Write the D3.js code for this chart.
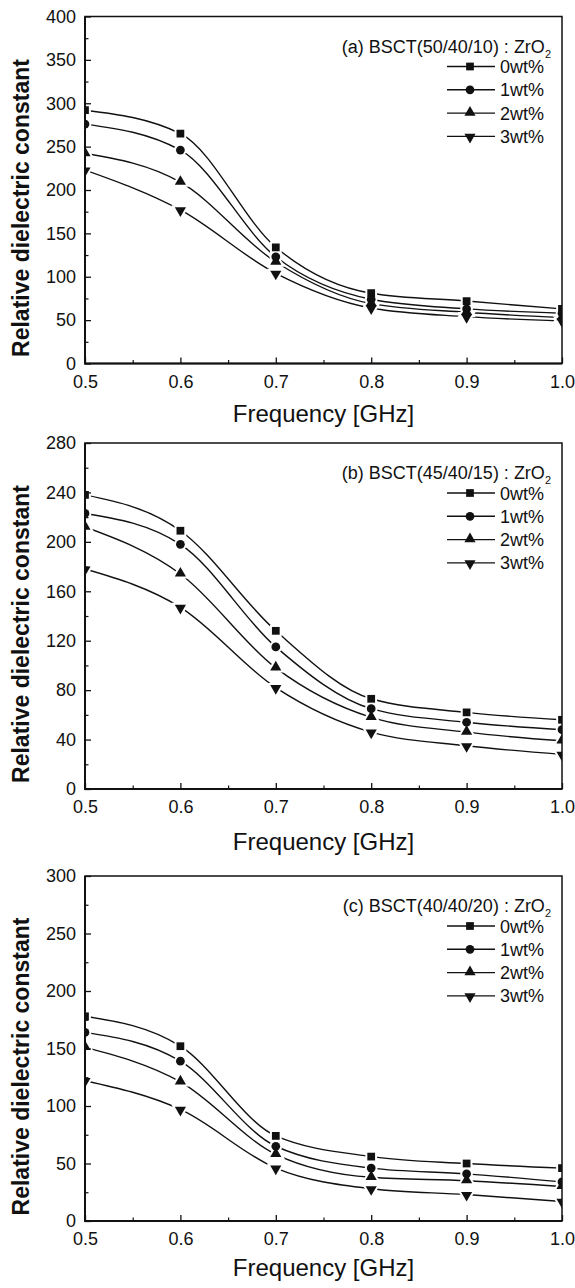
<!DOCTYPE html>
<html>
<head>
<meta charset="utf-8">
<script src="https://cdn.jsdelivr.net/npm/d3@7"></script>
<style>
  html, body { margin: 0; padding: 0; background: #fff; }
  svg { display: block; }
  text { font-family: "Liberation Sans", Arial, sans-serif; fill: #111; }
</style>
</head>
<body>
<svg id="chart" width="575" height="1288"></svg>
<script>
// ---------- data ----------
const frequency = [0.5, 0.6, 0.7, 0.8, 0.9, 1.0];
const seriesNames = ["0wt%", "1wt%", "2wt%", "3wt%"];
const markerTypes = ["square", "circle", "triangle", "triangleDown"];

const panelTitles = ["(a) BSCT(50/40/10) : ZrO", "(b) BSCT(45/40/15) : ZrO", "(c) BSCT(40/40/20) : ZrO"];
const xTickLabels = ["0.5", "0.6", "0.7", "0.8", "0.9", "1.0"];
const yTicksA = [0, 50, 100, 150, 200, 250, 300, 350, 400];
const yTicksB = [0, 40, 80, 120, 160, 200, 240, 280];
const yTicksC = [0, 50, 100, 150, 200, 250, 300];

// panel (a) BSCT(50/40/10)
const a_0wt = [292, 265, 134, 81, 72, 63];
const a_1wt = [276, 246, 123, 74, 63, 58];
const a_2wt = [242, 209, 117, 69, 59, 53];
const a_3wt = [223, 177, 104, 64, 54, 49];
// panel (b) BSCT(45/40/15)
const b_0wt = [238, 209, 128, 73, 62, 56];
const b_1wt = [223, 198, 115, 65, 54, 48];
const b_2wt = [212, 174, 98, 58, 46, 39];
const b_3wt = [178, 147, 82, 46, 35, 28];
// panel (c) BSCT(40/40/20)
const c_0wt = [178, 152, 74, 56, 50, 46];
const c_1wt = [164, 139, 65, 46, 41, 34];
const c_2wt = [151, 121, 58, 38, 35, 30];
const c_3wt = [122, 97, 46, 28, 23, 17];

// ---------- layout ----------
const panels = [
  { title: panelTitles[0], yTicks: yTicksA, series: [a_0wt, a_1wt, a_2wt, a_3wt], top: 16.5, bottom: 363.5, xTitleOffset: 58 },
  { title: panelTitles[1], yTicks: yTicksB, series: [b_0wt, b_1wt, b_2wt, b_3wt], top: 443, bottom: 789, xTitleOffset: 61 },
  { title: panelTitles[2], yTicks: yTicksC, series: [c_0wt, c_1wt, c_2wt, c_3wt], top: 876, bottom: 1221, xTitleOffset: 55 }
];
const left = 85, right = 562;
const svg = d3.select("#chart");
const FONT = '"Liberation Sans", Arial, sans-serif';
const defs = svg.append("defs");

const markerSizes = { square: 60, circle: 60, triangle: 54, triangleDown: 54 };
function markerTransform(type, x, y) {
  if (type === "triangleDown") return `translate(${x},${y + 0.6}) rotate(180)`;
  if (type === "triangle") return `translate(${x},${y - 0.6})`;
  return `translate(${x},${y})`;
}
function markerD(type) {
  const sym = { square: d3.symbolSquare, circle: d3.symbolCircle, triangle: d3.symbolTriangle, triangleDown: d3.symbolTriangle }[type];
  return d3.symbol().type(sym).size(markerSizes[type])();
}
function drawHalo(g, type, x, y) {
  g.append("path").attr("d", markerD(type)).attr("transform", markerTransform(type, x, y))
    .attr("fill", "#fff").attr("stroke", "#fff").attr("stroke-width", 4);
}
function drawMarker(g, type, x, y) {
  g.append("path").attr("d", markerD(type)).attr("transform", markerTransform(type, x, y))
    .attr("fill", "#111");
}

panels.forEach((pn, pi) => {
  const yMax = pn.yTicks[pn.yTicks.length - 1];
  const x = d3.scaleLinear().domain([0.5, 1.0]).range([left, right]);
  const y = d3.scaleLinear().domain([0, yMax]).range([pn.bottom, pn.top]);
  const g = svg.append("g");

  const clipId = "clip" + pi;
  defs.append("clipPath").attr("id", clipId).append("rect")
    .attr("x", left).attr("y", pn.top).attr("width", right - left).attr("height", pn.bottom - pn.top);
  const plot = g.append("g").attr("clip-path", `url(#${clipId})`);

  // series lines
  const line = d3.line().x((d, i) => x(frequency[i])).y(d => y(d)).curve(d3.curveMonotoneX);
  pn.series.forEach((vals) => {
    plot.append("path").attr("d", line(vals)).attr("fill", "none")
      .attr("stroke", "#111").attr("stroke-width", 1.4);
  });
  // marker halos (gap in lines), then markers
  pn.series.forEach((vals, si) => {
    vals.forEach((v, i) => drawHalo(plot, markerTypes[si], x(frequency[i]), y(v)));
  });
  pn.series.forEach((vals, si) => {
    vals.forEach((v, i) => drawMarker(plot, markerTypes[si], x(frequency[i]), y(v)));
  });

  // frame
  g.append("rect").attr("x", left).attr("y", pn.top)
    .attr("width", right - left).attr("height", pn.bottom - pn.top)
    .attr("fill", "none").attr("stroke", "#111").attr("stroke-width", 1.5);
  g.append("line").attr("x1", left).attr("x2", left).attr("y1", pn.top).attr("y2", pn.bottom)
    .attr("stroke", "#111").attr("stroke-width", 2);
  g.append("line").attr("x1", left - 1).attr("x2", right).attr("y1", pn.bottom).attr("y2", pn.bottom)
    .attr("stroke", "#111").attr("stroke-width", 2);

  // x axis (inward ticks)
  const xAxis = d3.axisBottom(x).tickValues(frequency).tickFormat((d, i) => xTickLabels[i]).tickSize(-6).tickPadding(0);
  const xg = g.append("g").attr("transform", `translate(0,${pn.bottom})`).call(xAxis);
  xg.select(".domain").remove();
  xg.selectAll("line").attr("stroke", "#111").attr("stroke-width", 1.3);
  xg.selectAll("text").attr("y", 24).attr("dy", 0).attr("font-size", 18)
    .style("font-family", FONT).attr("fill", "#111");
  const xMinor = d3.range(0.55, 1.0, 0.1);
  g.append("g").attr("transform", `translate(0,${pn.bottom})`)
    .call(d3.axisBottom(x).tickValues(xMinor).tickFormat("").tickSize(-3.5))
    .call(s => s.select(".domain").remove())
    .selectAll("line").attr("stroke", "#111").attr("stroke-width", 1.2);

  // y axis (inward ticks)
  const yAxis = d3.axisLeft(y).tickValues(pn.yTicks).tickSize(-6).tickPadding(9);
  const yg = g.append("g").attr("transform", `translate(${left},0)`).call(yAxis);
  yg.select(".domain").remove();
  yg.selectAll("line").attr("stroke", "#111").attr("stroke-width", 1.3);
  yg.selectAll("text").attr("x", -9).attr("font-size", 18)
    .style("font-family", FONT).attr("fill", "#111");
  const step = pn.yTicks[1] - pn.yTicks[0];
  const yMinor = d3.range(step / 2, yMax, step);
  g.append("g").attr("transform", `translate(${left},0)`)
    .call(d3.axisLeft(y).tickValues(yMinor).tickFormat("").tickSize(-3.5))
    .call(s => s.select(".domain").remove())
    .selectAll("line").attr("stroke", "#111").attr("stroke-width", 1.2);

  // axis titles
  g.append("text").attr("x", (left + right) / 2).attr("y", pn.bottom + pn.xTitleOffset)
    .attr("text-anchor", "middle").attr("font-size", 24).text("Frequency [GHz]");
  const cy = (pn.top + pn.bottom) / 2 + 18;
  g.append("text").attr("transform", `translate(29,${cy}) rotate(-90)`)
    .attr("text-anchor", "middle").attr("font-size", 23).attr("font-weight", "bold")
    .text("Relative dielectric constant");

  // legend
  const titleY = pn.top + 30;
  const t = g.append("text").attr("x", 551).attr("y", titleY + 6).attr("text-anchor", "end").attr("font-size", 18);
  t.append("tspan").text(pn.title);
  t.append("tspan").attr("font-size", 11).attr("dy", 5).text("2");
  seriesNames.forEach((name, si) => {
    const ly = pn.top + 50 + si * 23.3;
    g.append("line").attr("x1", 447).attr("x2", 495).attr("y1", ly).attr("y2", ly)
      .attr("stroke", "#111").attr("stroke-width", 1.4);
    drawMarker(g, markerTypes[si], 470, ly);
    g.append("text").attr("x", 500).attr("y", ly + 6.5).attr("font-size", 18).text(name);
  });
});
</script>
</body>
</html>
